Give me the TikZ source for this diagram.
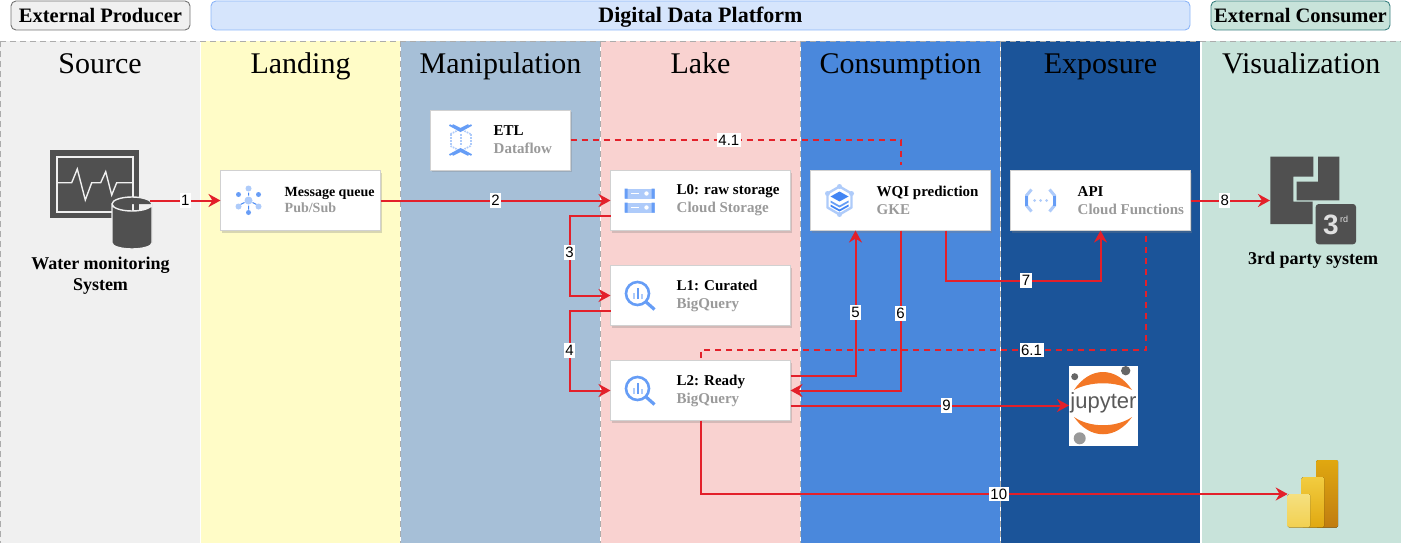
\documentclass[tikz,border=0pt]{standalone}
\usepackage{fontspec}
\setmainfont{Liberation Serif}
\newfontfamily\lblfont{Liberation Sans}
\usepackage{xcolor}
\usepackage{tikz}
\usetikzlibrary{arrows.meta,positioning,calc,shadows}

\definecolor{redline}{HTML}{E3202A}
\definecolor{iconfill}{HTML}{505050}
\definecolor{subgray}{HTML}{9A9A9A}
\definecolor{gblue}{HTML}{669DF6}
\definecolor{gpale}{HTML}{AECBFA}
\definecolor{gdark}{HTML}{4285F4}
\definecolor{jupyorange}{HTML}{F37726}

\tikzset{
  bqicon/.pic={
    \draw[gblue, line width=2.6pt] (-2,-2) circle (11.5);
    \draw[gblue, line width=3.2pt] (6,6) -- (15,14);
    \fill[gpale] (-7,-3) rectangle (-4.5,3);
    \fill[gblue] (-3,-8) rectangle (-0.5,3);
    \fill[gpale] (1,-2) rectangle (3.5,3);
  },
  storeicon/.pic={
    \fill[gpale] (-15,-12) rectangle (15,-2);
    \fill[gpale] (-15,2) rectangle (15,12);
    \fill[gblue] (-15,-12) rectangle (-12,-2) (12,-12) rectangle (15,-2);
    \fill[gblue] (-15,2) rectangle (-12,12) (12,2) rectangle (15,12);
    \draw[white, line width=1.2pt] (-9,-7) -- (-1,-7) (-9,7) -- (-1,7);
    \fill[white] (7,-7) circle (2.2) (7,7) circle (2.2);
  },
  pubicon/.pic={
    \draw[gdark, line width=1pt] (0,-8) -- (0,-5) (0,5) -- (0,9) (-8,4) -- (-4,2) (8,4) -- (4,2);
    \fill[gpale] (0,0) circle (4) (0,-12) circle (3) (-10,6) circle (3) (10,6) circle (3);
    \fill[gdark!80!white] (0,12) circle (2.5) (-10,-6) circle (2.5) (10,-6) circle (2.5);
  },
  flowicon/.pic={
    \draw[gpale, line width=2pt, densely dotted] (-10,-6) -- (-10,6) (10,-6) -- (10,6) (0,-6) -- (0,6);
    \draw[gpale, line width=1.6pt, densely dotted] (-10,-6) -- (0,-11) -- (10,-6) (-10,6) -- (0,11) -- (10,6);
    \draw[gblue, line width=1.8pt] (-11,-15) -- (0,-9) -- (11,-15) (-8,-15) -- (0,-11) -- (8,-15);
    \draw[gblue, line width=1.8pt] (-11,15) -- (0,9) -- (11,15) (-8,15) -- (0,11) -- (8,15);
  },
  gkeicon/.pic={
    \draw[gpale, line width=2.4pt, line join=round] (0,-14) -- (12,-7) -- (12,7) -- (0,14) -- (-12,7) -- (-12,-7) -- cycle;
    \fill[gpale] (0,-14) circle (2.5) (12,-7) circle (2.5) (0,14) circle (2.5) (-12,-7) circle (2.5);
    \fill[gdark] (0,-9) -- (9,-4) -- (0,1) -- (-9,-4) -- cycle;
    \fill[gblue] (-9,0) -- (0,5) -- (9,0) -- (9,2) -- (0,7) -- (-9,2) -- cycle;
    \fill[gdark] (-9,4) -- (0,9) -- (9,4) -- (9,6) -- (0,11) -- (-9,6) -- cycle;
  },
  funcicon/.pic={
    \draw[gpale, line width=3pt] (-9,-11) -- (-14,-5) -- (-14,5) -- (-9,11);
    \draw[gpale, line width=3pt] (9,-11) -- (14,-5) -- (14,5) -- (9,11);
    \draw[gblue, line width=2.4pt] (-14,-5) -- (-14,5) (14,-5) -- (14,5);
    \fill[gpale] (-6,0) circle (1.5) (0,0) circle (1.5) (6,0) circle (1.5);
  }
}

\begin{document}
\begin{tikzpicture}[
  x=1pt, y=-1pt,
  lane/.style={minimum width=200pt, minimum height=502pt, inner sep=0pt, outer sep=0pt},
  lanetitle/.style={font=\fontsize{30}{32}\selectfont, inner sep=0pt, text height=21pt, text depth=7pt},
  laneedge/.style={draw=gray!65, line width=0.9pt, dash pattern=on 6pt off 4pt},
  hdr/.style={rounded corners=5pt, line width=0.9pt, minimum height=29pt, inner sep=0pt, text height=17pt, text depth=3.5pt, font=\fontsize{20.5}{22}\selectfont\bfseries},
  card/.style={draw=black!18, fill=white, minimum width=180pt, minimum height=60pt, inner sep=0pt, outer sep=0pt,
    drop shadow={shadow xshift=1.5pt, shadow yshift=-2pt, opacity=0.3}},
  cardtxt/.style={align=left, inner sep=0pt, font=\fontsize{15}{18}\selectfont\bfseries},
  captxt/.style={align=center, inner sep=0pt, font=\fontsize{18}{21}\selectfont\bfseries},
  arr/.style={-{Stealth[length=12pt, width=13pt]}, color=redline, line width=2pt},
  dashseg/.style={color=redline, line width=2pt, dash pattern=on 6pt off 5pt},
  lbl/.style={fill=white, inner xsep=1.5pt, inner ysep=2pt, font=\lblfont\fontsize{15}{16}\selectfont, text=black},
  spot/.style={minimum height=60pt, inner sep=0pt, outer sep=0pt}
]
\useasboundingbox (0,0) rectangle (1401,543);

\node[lane, fill=black!6] (source) at (100,292) {};
\node[lane, right=1pt of source, minimum width=199pt, fill=yellow!22!white] (landing) {};
\node[lane, right=1pt of landing, minimum width=199pt, fill={rgb,255:red,166;green,191;blue,215}] (manip) {};
\node[lane, right=1pt of manip, minimum width=199pt, fill={rgb,255:red,249;green,210;blue,208}] (lake) {};
\node[lane, right=1pt of lake, minimum width=199pt, fill={rgb,255:red,74;green,136;blue,220}] (consume) {};
\node[lane, right=1pt of consume, minimum width=199pt, fill={rgb,255:red,27;green,84;blue,153}] (expose) {};
\node[lane, right=1.5pt of expose, minimum width=199.5pt, fill={rgb,255:red,200;green,227;blue,218}] (visual) {};

\draw[laneedge] (source.north west) -- (visual.north east) -- (visual.south east) -- (source.south west) -- cycle;
\draw[laneedge] (landing.north east) -- (landing.south east);
\draw[laneedge] (manip.north east) -- (manip.south east);
\draw[laneedge] (lake.north east) -- (lake.south east);
\draw[laneedge] (consume.north east) -- (consume.south east);

\node[lanetitle, below=11pt of source.north] (sourcetitle) {Source};
\node[lanetitle, below=11pt of landing.north] (landingtitle) {Landing};
\node[lanetitle, below=11pt of manip.north] (maniptitle) {Manipulation};
\node[lanetitle, below=11pt of lake.north] (laketitle) {Lake};
\node[lanetitle, below=11pt of consume.north] (consumetitle) {Consumption};
\node[lanetitle, below=11pt of expose.north] (exposetitle) {Exposure};
\node[lanetitle, below=11pt of visual.north] (visualtitle) {Visualization};

\node[hdr, draw=black!55, fill=black!6, minimum width=179pt] (producer) at (100.5,15.5) {External Producer};
\node[hdr, draw=gblue!75, fill=gpale!50!white, minimum width=979pt, font=\fontsize{22}{24}\selectfont\bfseries] (platform) at (700.5,15.5) {Digital Data Platform};
\node[hdr, draw=teal!55!gray, fill={rgb,255:red,200;green,227;blue,218}, minimum width=179pt] (consumer) at (1300.5,15.5) {External Consumer};

\node[card, minimum width=160pt] (queue) at (300.5,200.5) {};
\node[card, minimum width=140pt] (etl) at (500.5,140) {};
\node[card] (lzero) at (700.5,200.5) {};
\node[card, below=35pt of lzero] (lone) {};
\node[card, below=35pt of lone] (ltwo) {};
\node[card, right=20pt of lzero] (wqi) {};
\node[card, right=20pt of wqi] (api) {};

\node[cardtxt, font=\fontsize{14}{16}\selectfont\bfseries, right=64pt of queue.west] (queuetxt) {Message queue\\\textcolor{subgray}{Pub/Sub}};
\node[cardtxt, right=63pt of etl.west] (etltxt) {ETL\\\textcolor{subgray}{Dataflow}};
\node[cardtxt, right=66pt of lzero.west] (lzerotxt) {L0: raw storage\\\textcolor{subgray}{Cloud Storage}};
\node[cardtxt, right=66pt of lone.west] (lonetxt) {L1: Curated\\\textcolor{subgray}{BigQuery}};
\node[cardtxt, right=66pt of ltwo.west] (ltwotxt) {L2: Ready\\\textcolor{subgray}{BigQuery}};
\node[cardtxt, right=66pt of wqi.west] (wqitxt) {WQI prediction\\\textcolor{subgray}{GKE}};
\node[cardtxt, right=67pt of api.west] (apitxt) {API\\\textcolor{subgray}{Cloud Functions}};

\pic at ($(queue.west)+(28,0)$) {pubicon};
\pic at ($(etl.west)+(30,0)$) {flowicon};
\pic at ($(lzero.west)+(29,0)$) {storeicon};
\pic at ($(lone.west)+(29,0)$) {bqicon};
\pic at ($(ltwo.west)+(29,0)$) {bqicon};
\pic at ($(wqi.west)+(29,0)$) {gkeicon};
\pic at ($(api.west)+(30,0)$) {funcicon};

\node[spot, minimum width=100pt] (wmsicon) at (100,200.5) {};
\fill[iconfill] (50,150) rectangle (139,218);
\draw[black!6, line width=1.4pt] (57,157) rectangle (133,212);
\draw[black!6, line width=1.4pt] (57,182.7) -- (71.7,182.7) -- (77.3,169) -- (85.3,200) -- (91.7,182.7) -- (100.7,182.7) -- (105.7,171.7) -- (111.7,195) -- (116.7,182.7) -- (133,182.7);
\fill[iconfill, draw=black!6, line width=1.4pt] (112,204) -- (112,243) arc[start angle=180, end angle=0, x radius=20, y radius=6] -- (152,204) arc[start angle=0, end angle=360, x radius=20, y radius=7];
\node[captxt] (wmstxt) at (100.5,276) {Water monitoring\\System};

\node[spot, minimum width=100pt] (thirdicon) at (1320,200.5) {};
\fill[iconfill] (1270.3,156.7) -- (1313.3,156.7) -- (1313.3,176.7) -- (1293.3,176.7) -- (1293.3,201.7) -- (1312.7,201.7) -- (1312.7,224) -- (1270.3,224) -- cycle;
\fill[iconfill] (1318,156.7) -- (1339.3,156.7) -- (1339.3,200.3) -- (1296.7,200.3) -- (1296.7,181.7) -- (1318,181.7) -- cycle;
\fill[iconfill, rounded corners=3pt] (1315.7,204) rectangle (1356,244.3);
\node[inner sep=0pt, text=black!12, font=\lblfont\fontsize{28}{28}\selectfont\bfseries] (thirdnum) at (1331,224.5) {3};
\node[inner sep=0pt, text=black!12, font=\lblfont\fontsize{9}{9}\selectfont] (thirdrd) at (1344,219.5) {rd};
\node[captxt] (thirdtxt) at (1313,260) {3rd party system};

\node[fill=white, minimum width=69pt, minimum height=80pt, inner sep=0pt, outer sep=0pt] (jupyter) at (1103.5,405.5) {};
\fill[jupyorange] (1074,390) .. controls (1090,366) and (1116,366) .. (1132,390) .. controls (1116,381) and (1090,381) .. (1074,390);
\fill[jupyorange] (1074,417) .. controls (1090,440) and (1116,440) .. (1132,417) .. controls (1116,428) and (1090,428) .. (1074,417);
\fill[black!60] (1074.7,376.7) circle (3.5);
\fill[black!60] (1125.7,370.7) circle (4.7);
\fill[black!40] (1079.7,438.3) circle (6);
\node[inner sep=0pt, text=black!65, font=\lblfont\fontsize{22}{22}\selectfont] (jupytertxt) at (1103.5,403) {jupyter};

\node[spot, minimum width=50pt] (powerbi) at (1312.7,494) {};
\fill[rounded corners=1.5pt, top color={rgb,255:red,224;green,168;blue,16}, bottom color={rgb,255:red,192;green,124;blue,16}] (1316,460) rectangle (1338,527.7);
\fill[rounded corners=1.5pt, top color={rgb,255:red,242;green,204;blue,64}, bottom color={rgb,255:red,224;green,168;blue,16}] (1301.7,477) rectangle (1324,527.7);
\fill[rounded corners=1.5pt, top color={rgb,255:red,245;green,224;blue,128}, bottom color={rgb,255:red,242;green,208;blue,80}] (1287.7,494) rectangle (1310,527.7);

\coordinate (lzeroout) at ([yshift=-15pt]lzero.west);
\coordinate (loneout) at ([yshift=-15pt]lone.west);
\coordinate (ltwoup) at ([yshift=15pt]ltwo.east);
\coordinate (ltwodown) at ([yshift=-15pt]ltwo.east);
\coordinate (wqiin) at ([xshift=-45pt]wqi.south);
\coordinate (wqiout) at ([xshift=45pt]wqi.south);
\coordinate (apiout) at ([xshift=45pt, yshift=-5pt]api.south);
\coordinate (etlend) at ([yshift=6pt]wqi.north);
\coordinate (readytop) at (700.5,350);

\draw[arr] (wmsicon.east) -- node[lbl, pos=0.5] (one) {1} (queue.west);
\draw[arr] (queue.east) -- node[lbl, pos=0.5] (two) {2} (lzero.west);
\draw[arr] (lzeroout) -- ++(-41,0) |- node[lbl, pos=0.23] (three) {3} (lone.west);
\draw[arr] (loneout) -- ++(-41,0) |- node[lbl, pos=0.25] (four) {4} (ltwo.west);
\draw[dashseg] (etl.east) -| node[lbl, pos=0.24] (fourone) {4.1} (etlend);
\draw[arr] (ltwoup) -| node[lbl, pos=0.717] (five) {5} (wqiin);
\draw[arr] (wqi.south) |- node[lbl, pos=0.26] (six) {6} (ltwo.east);
\draw[dashseg] (apiout) |- node[lbl, pos=0.628] (sixone) {6.1} (readytop) -- (ltwo.north);
\draw[arr] (wqiout) -- ++(0,50) -| node[lbl, pos=0.26] (seven) {7} (api.south);
\draw[arr] (api.east) -- node[lbl, pos=0.43] (eight) {8} (thirdicon.west);
\draw[arr] (ltwodown) -- node[lbl, pos=0.56] (nine) {9} (jupyter.west);
\draw[arr] (ltwo.south) |- node[lbl, pos=0.754] (ten) {10} (powerbi.west);
\end{tikzpicture}
\end{document}
